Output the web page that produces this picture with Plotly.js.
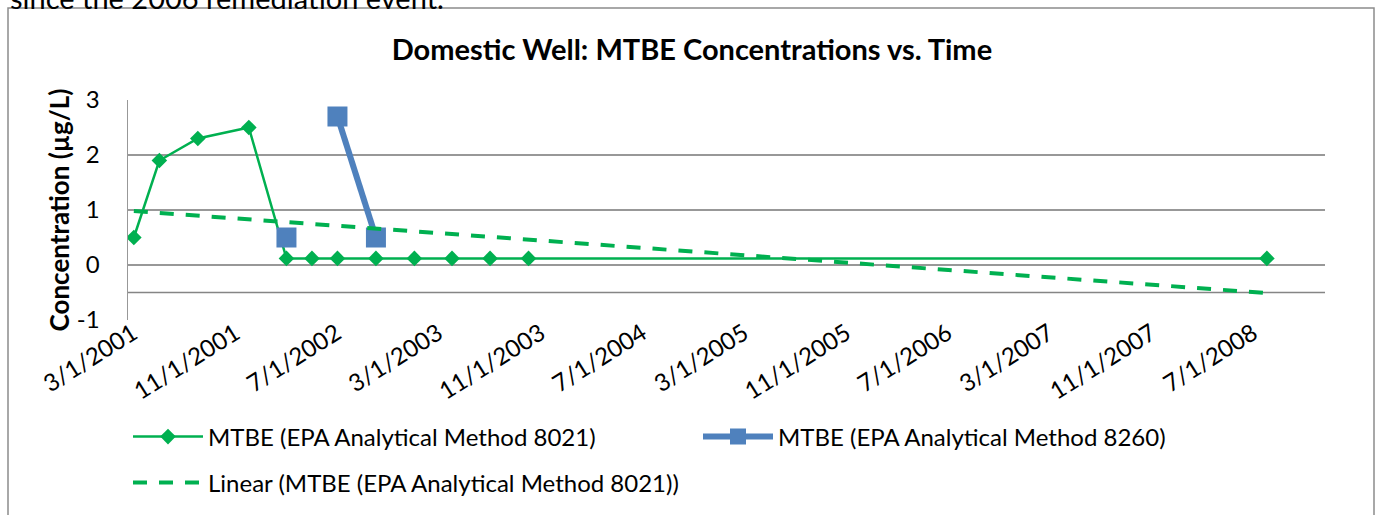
<!DOCTYPE html>
<html>
<head>
<meta charset="utf-8">
<script src="https://cdn.plot.ly/plotly-3.0.1.min.js"></script>
<style>html,body{margin:0;padding:0;background:#fff;}#chart{width:1380px;height:515px;}</style>
</head>
<body>
<div id="chart"></div>
<script>
// ---- data ----
const dates8021 = ['2001-03-15','2001-05-15','2001-08-15','2001-12-15','2002-03-15','2002-05-15','2002-07-15','2002-10-15','2003-01-15','2003-04-15','2003-07-15','2003-10-15','2008-08-15'];
const mtbe8021 = [0.5, 1.9, 2.3, 2.5, 0.12, 0.12, 0.12, 0.12, 0.12, 0.12, 0.12, 0.12, 0.12];
const dates8260 = ['2002-03-15','2002-05-15','2002-07-15','2002-10-15'];
const mtbe8260 = [0.5, null, 2.7, 0.5];
const trendDates = ['2001-03-15','2008-08-15'];
const trendValues = [0.98, -0.51];
const tickDates = ['2001-03-01','2001-11-01','2002-07-01','2003-03-01','2003-11-01','2004-07-01','2005-03-01','2005-11-01','2006-07-01','2007-03-01','2007-11-01','2008-07-01'];
const tickLabels = ['3/1/2001','11/1/2001','7/1/2002','3/1/2003','11/1/2003','7/1/2004','3/1/2005','11/1/2005','7/1/2006','3/1/2007','11/1/2007','7/1/2008'];
const yTicks = [-1, 0, 1, 2, 3];
const yTickLabels = ['-1', '0', '1', '2', '3'];

const FONT = 'Lato, "Open Sans", sans-serif';
const GREEN = '#00B050';
const BLUE = '#4F81BD';
const GRID = '#989898';

const traces = [
  {x: dates8021, y: mtbe8021, type: 'scatter', mode: 'lines+markers',
   name: 'MTBE (EPA Analytical Method 8021)',
   line: {color: GREEN, width: 2.5}, marker: {symbol: 'diamond', size: 12, color: GREEN},
   legend: 'legend'},
  {x: dates8260, y: mtbe8260, type: 'scatter', mode: 'lines+markers',
   name: 'MTBE (EPA Analytical Method 8260)', connectgaps: false,
   line: {color: BLUE, width: 6}, marker: {symbol: 'square', size: 20, color: BLUE},
   legend: 'legend'},
  {x: trendDates, y: trendValues, type: 'scatter', mode: 'lines',
   name: 'Linear (MTBE (EPA Analytical Method 8021))',
   line: {color: GREEN, width: 4, dash: '14px,12px'},
   legend: 'legend2'}
];

const layout = {
  width: 1380, height: 515,
  margin: {l: 128, r: 55, t: 100, b: 195, autoexpand: false},
  paper_bgcolor: '#ffffff', plot_bgcolor: '#ffffff',
  font: {family: FONT, size: 24, color: '#000'},
  title: {text: '<b>Domestic Well: MTBE Concentrations vs. Time</b>',
          font: {family: FONT, size: 29, color: '#000'},
          xref: 'container', yref: 'container', x: 0.5014, y: 0.903,
          xanchor: 'center', yanchor: 'middle'},
  xaxis: {type: 'date', range: ['2001-03-01', '2009-01-01'],
          tickmode: 'array', tickvals: tickDates, ticktext: tickLabels,
          tickangle: -32, showgrid: false, zeroline: false, showline: false,
          ticks: '', ticklabelstandoff: -6, ticklabelshift: 5,
          tickfont: {family: FONT, size: 24, color: '#000'}},
  yaxis: {range: [-1, 3], tickmode: 'array', tickvals: yTicks, ticktext: yTickLabels,
          showgrid: true, gridcolor: GRID, gridwidth: 1.5, zeroline: false,
          showline: true, linecolor: GRID, linewidth: 1.5,
          ticks: '', ticklabelstandoff: 22,
          tickfont: {family: FONT, size: 24, color: '#000'},
          title: {text: '<b>Concentration (µg/L)</b>', font: {family: FONT, size: 26, color: '#000'}, standoff: 0}},
  showlegend: true,
  legend: {orientation: 'h', x: 0, xanchor: 'left', y: (320 - 437) / 220, yanchor: 'middle',
           entrywidth: 485, entrywidthmode: 'pixels', itemwidth: 70,
           font: {family: FONT, size: 24, color: '#000'}, bgcolor: 'rgba(0,0,0,0)'},
  legend2: {orientation: 'h', x: 0, xanchor: 'left', y: (320 - 483) / 220, yanchor: 'middle',
            itemwidth: 70, font: {family: FONT, size: 24, color: '#000'}, bgcolor: 'rgba(0,0,0,0)'},
  shapes: [
    {type: 'line', xref: 'paper', yref: 'y', x0: 0, x1: 1, y0: -0.5, y1: -0.5,
     line: {color: '#858585', width: 1.5}, layer: 'below'},
    {type: 'rect', xref: 'paper', yref: 'paper',
     x0: (8 - 128) / 1197, x1: (1374 - 128) / 1197, y0: (320 - 530) / 220, y1: (320 - 8) / 220,
     line: {color: '#8c8c8c', width: 1.5}, fillcolor: 'rgba(0,0,0,0)', layer: 'below'}
  ],
  annotations: [
    {text: 'since the 2006 remediation event.', xref: 'paper', yref: 'paper',
     x: (8 - 128) / 1197, y: (320 - 17) / 220, xanchor: 'left', yanchor: 'bottom',
     showarrow: false, font: {family: FONT, size: 29, color: '#000'}}
  ]
};

Plotly.newPlot('chart', traces, layout, {displayModeBar: false, staticPlot: true});
</script>
</body>
</html>
